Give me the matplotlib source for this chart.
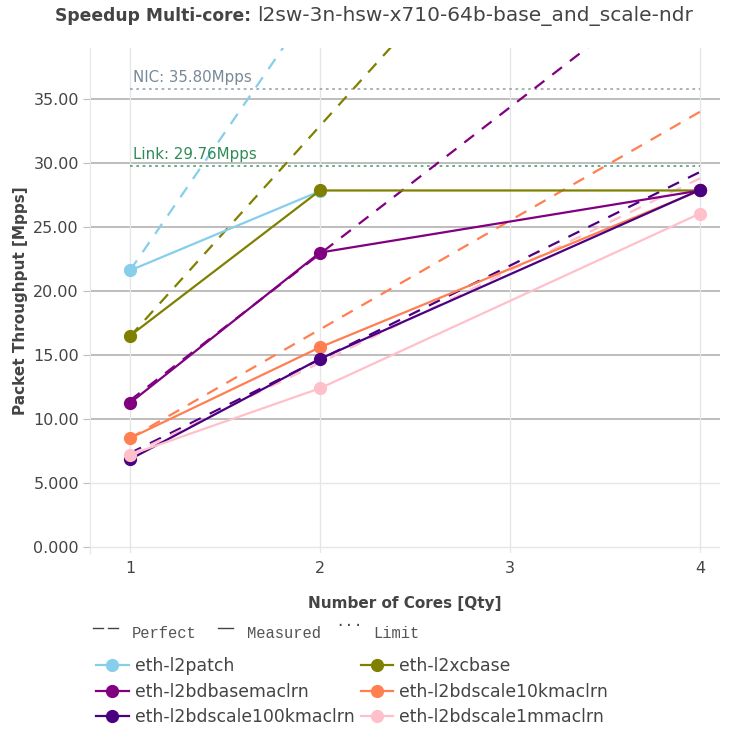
import matplotlib
matplotlib.use("Agg")
import matplotlib.pyplot as plt
from matplotlib.lines import Line2D

plt.rcParams['font.family'] = ['DejaVu Sans']

series_names = ["eth-l2patch", "eth-l2xcbase", "eth-l2bdbasemaclrn",
                "eth-l2bdscale10kmaclrn", "eth-l2bdscale100kmaclrn", "eth-l2bdscale1mmaclrn"]
colors = ["#87CEEB", "#808000", "#800080", "#FF7F50", "#4B0082", "#FFC0CB"]

measured_x = [[1, 2], [1, 2, 4], [1, 2, 4], [1, 2, 4], [1, 2, 4], [1, 2, 4]]
measured_y = [[21.6, 27.8], [16.5, 27.85, 27.85], [11.25, 23.0, 27.85],
              [8.5, 15.6, 27.85], [6.85, 14.7, 27.9], [7.2, 12.4, 26.05]]
perfect_x = [[1, 2], [1, 2, 4], [1, 2, 4], [1, 2, 4], [1, 2, 4], [1, 2, 4]]
perfect_y = [[21.6, 43.2], [16.45, 32.9, 65.8], [11.45, 22.9, 45.8],
             [8.5, 17.0, 34.0], [7.33, 14.66, 29.3], [7.2, 14.4, 28.8]]

limit_x = [1, 4]
nic_limit = 35.80
link_limit = 29.76

yticks = [0, 5, 10, 15, 20, 25, 30, 35]
ytick_labels = ["0.000", "5.000", "10.00", "15.00", "20.00", "25.00", "30.00", "35.00"]
xticks = [1, 2, 3, 4]

W, H = 731, 730
fig = plt.figure(figsize=(W / 100, H / 100), dpi=100)
ax = fig.add_axes([90 / W, 1 - 553 / H, 630 / W, 505 / H])
ax.set_xlim(0.7895, 4.105)
ax.set_ylim(-0.47, 38.98)

# grid
for yv in yticks:
    c = "#bdbdbd" if yv >= 10 else "#e6e6e6"
    lw = 1.4 if yv >= 10 else 1.0
    ax.axhline(yv, color=c, lw=lw, zorder=0)
for xv in xticks:
    ax.axvline(xv, color="#e6e6e6", lw=1.0, zorder=0)

# limits
ax.plot(limit_x, [nic_limit] * 2, color="#a3abb3", lw=1.3, ls=(0, (1.5, 2)), zorder=1)
ax.plot(limit_x, [link_limit] * 2, color="#5da87d", lw=1.3, ls=(0, (1.5, 2)), zorder=1)
ax.text(1.015, nic_limit + 0.3, "NIC: 35.80Mpps", color="#778899", fontsize=10.8, va="bottom", ha="left")
ax.text(1.015, link_limit + 0.3, "Link: 29.76Mpps", color="#2E8B57", fontsize=10.8, va="bottom", ha="left")

for i in range(len(series_names)):
    ax.plot(perfect_x[i], perfect_y[i], color=colors[i], lw=1.6, ls=(0, (5.5, 4.5)), zorder=2)
for i in range(len(series_names)):
    ax.plot(measured_x[i], measured_y[i], color=colors[i], lw=1.6, marker="o", ms=8.5,
            zorder=3, label=series_names[i])

ax.set_yticks(yticks)
ax.set_yticklabels(ytick_labels)
ax.set_xticks(xticks)
ax.tick_params(axis="y", length=5, color="#bdbdbd", labelsize=11.5, labelcolor="#444444", pad=3)
ax.tick_params(axis="x", length=0, labelsize=11.5, labelcolor="#444444", pad=6)
for s in ["top", "right", "bottom"]:
    ax.spines[s].set_visible(False)
ax.spines["left"].set_color("#e6e6e6")

ax.set_xlabel("Number of Cores [Qty]", fontsize=11, fontweight="bold", color="#444444", labelpad=14)
ax.set_ylabel("Packet Throughput [Mpps]", fontsize=11, fontweight="bold", color="#444444", labelpad=4)

# title
t1 = fig.text(55 / W, 1 - 16 / H, "Speedup Multi-core:", fontsize=12.3, fontweight="bold",
              color="#444444", va="center", ha="left")
fig.canvas.draw()
bb = t1.get_window_extent()
fig.text((bb.x1 + 6) / W, 1 - 16 / H, "l2sw-3n-hsw-x710-64b-base_and_scale-ndr", fontsize=14.5,
         color="#444444", va="center", ha="left")

# style legend line
yl = 1 - 628 / H
mono = dict(family="Liberation Mono", fontsize=11.2, color="#555555", va="center")
fig.add_artist(Line2D([93 / W, 103 / W], [yl, yl], color="#444444", lw=1))
fig.add_artist(Line2D([108 / W, 118 / W], [yl, yl], color="#444444", lw=1))
fig.text(132 / W, 1 - 634 / H, "Perfect", **mono)
fig.add_artist(Line2D([218 / W, 233 / W], [yl, yl], color="#444444", lw=1))
fig.text(247 / W, 1 - 634 / H, "Measured", **mono)
fig.text(335 / W, 1 - 625 / H, "···", family="Liberation Mono", fontsize=11.2, color="#444444", va="center")
fig.text(373 / W, 1 - 634 / H, "Limit", **mono)

handles, labels = ax.get_legend_handles_labels()
order = [0, 2, 4, 1, 3, 5]
leg = fig.legend([handles[k] for k in order], [labels[k] for k in order], ncol=2,
                 loc="upper left", bbox_to_anchor=(96 / W, 1 - 657 / H), frameon=False,
                 fontsize=12.4, labelcolor="#444444", handlelength=1.9, handletextpad=0.35,
                 columnspacing=0.35, labelspacing=0.45, borderaxespad=0, borderpad=0)

fig.savefig("out.png", dpi=100)
